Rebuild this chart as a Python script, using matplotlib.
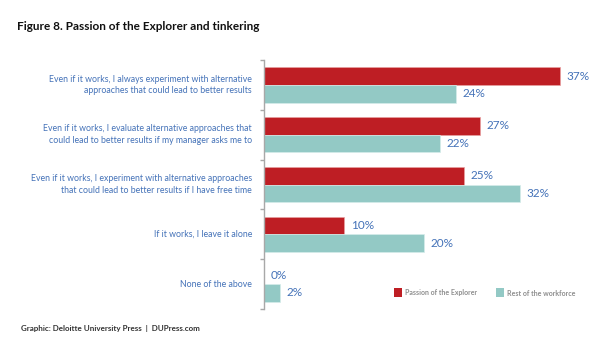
import matplotlib
matplotlib.use("Agg")
import matplotlib.pyplot as plt
import numpy as np

plt.rcParams['font.family'] = ['Lato', 'DejaVu Sans']

categories = [
    "Even if it works, I always experiment with alternative\napproaches that could lead to better results",
    "Even if it works, I evaluate alternative approaches that\ncould lead to better results if my manager asks me to",
    "Even if it works, I experiment with alternative approaches\nthat could lead to better results if I have free time",
    "If it works, I leave it alone",
    "None of the above",
]
explorer = [37, 27, 25, 10, 0]
workforce = [24, 22, 32, 20, 2]
series_names = ["Passion of the Explorer", "Rest of the workforce"]

RED = "#BE1E24"
TEAL = "#93C9C5"
LABEL_BLUE = "#4472B8"
GRAY = "#8E8E8E"

fig = plt.figure(figsize=(6.0, 3.42), dpi=100)
ax = fig.add_axes([264 / 600, 1 - 309 / 342, 1 - 264 / 600, (309 - 60) / 342])

y = np.arange(len(categories))
h = 0.355
ax.barh(y - h / 2, explorer, height=h, color=RED, edgecolor="#E8A0A0", linewidth=0.5)
ax.barh(y + h / 2, workforce, height=h, color=TEAL, edgecolor="#D5ECEA", linewidth=0.5)

for yi, v in zip(y, explorer):
    ax.text(v + 0.85, yi - h / 2, f"{v}%", va="center", ha="left",
            fontsize=8.5, color=LABEL_BLUE)
for yi, v in zip(y, workforce):
    ax.text(v + 0.85, yi + h / 2, f"{v}%", va="center", ha="left",
            fontsize=8.5, color=LABEL_BLUE)

ax.set_xlim(0, (600 - 264) / 8)
ax.set_ylim(len(categories) - 0.5, -0.5)

for s in ["top", "right", "bottom"]:
    ax.spines[s].set_visible(False)
ax.spines["left"].set_color("#A8A8A8")
ax.spines["left"].set_linewidth(1.0)
ax.set_xticks([])
ax.set_yticks(np.arange(-0.5, len(categories), 1.0))
ax.set_yticklabels([])
ax.tick_params(axis="y", direction="out", length=3, width=1.0, color="#A8A8A8")

for yi, cat in zip(y, categories):
    ax.text(-12 / 8, yi, cat, ha="right", va="center", fontsize=6.3,
            color=LABEL_BLUE, linespacing=1.4)

# Legend drawn as small squares with captions
for x0, col, name in [(394, RED, series_names[0]), (496, TEAL, series_names[1])]:
    fig.patches.append(plt.Rectangle((x0 / 600, 1 - 297 / 342), 8 / 600, 9 / 342,
                                     transform=fig.transFigure, facecolor=col,
                                     edgecolor="none"))
    fig.text((x0 + 11) / 600, 1 - 293 / 342, name, ha="left", va="center",
             fontsize=5.0, color=GRAY, fontweight="bold")

fig.text(17 / 600, 1 - 27 / 342, "Figure 8. Passion of the Explorer and tinkering",
         ha="left", va="center", fontsize=8.5, fontweight="bold", color="#111111")
fig.text(21 / 600, 1 - 329 / 342, "Graphic: Deloitte University Press  |  DUPress.com",
         ha="left", va="center", fontsize=5.8, fontweight="bold", color="#333333")

fig.savefig("out.png", dpi=100)
